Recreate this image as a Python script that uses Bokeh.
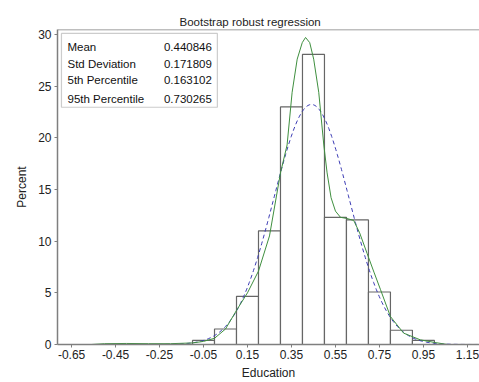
import numpy as np
from bokeh.plotting import figure
from bokeh.models import FixedTicker, Span, BoxAnnotation, Label
from bokeh.embed import file_html
from bokeh.resources import INLINE

# ---- data ----
bin_mid = [-0.05, 0.05, 0.15, 0.25, 0.35, 0.45, 0.55, 0.65, 0.75, 0.85, 0.95]
bin_pct = [0.39, 1.5, 4.66, 11.0, 22.98, 28.06, 12.3, 12.05, 5.08, 1.38, 0.39]
bin_width = 0.1

kde_x = [-0.56, -0.5, -0.4, -0.3, -0.2, -0.1, -0.05, 0.0, 0.05, 0.1, 0.15, 0.2, 0.25,
         0.3, 0.33, 0.353, 0.376, 0.399, 0.414, 0.433, 0.451, 0.474, 0.497, 0.512,
         0.53, 0.55, 0.573, 0.6, 0.633, 0.66, 0.694, 0.725, 0.755, 0.8, 0.86, 0.936, 1.0, 1.06]
kde_y = [0.0, 0.08, 0.1, 0.08, 0.08, 0.15, 0.3, 0.6, 1.5, 3.3, 5.0, 7.1, 10.5,
         16.6, 19.3, 24.4, 27.6, 29.2, 29.7, 29.2, 27.6, 24.4, 19.3, 16.6,
         14.2, 12.9, 12.3, 12.2, 12.0, 10.8, 8.8, 7.0, 5.3, 2.7, 1.1, 0.45, 0.2, 0.0]

stat_labels = ["Mean", "Std Deviation", "5th Percentile", "95th Percentile"]
stat_values = ["0.440846", "0.171809", "0.163102", "0.730265"]
mean_val = 0.440846
sd_val = 0.171809

x_ticks = [-0.65, -0.45, -0.25, -0.05, 0.15, 0.35, 0.55, 0.75, 0.95, 1.15]
y_ticks = [0, 5, 10, 15, 20, 25, 30]

FONT = "Liberation Sans"
GRAY = "#7f7f7f"

p = figure(width=479, height=382, output_backend="svg", toolbar_location=None,
           x_range=(-0.714, 1.205), y_range=(0, 30.47),
           min_border_left=57, min_border_right=0, min_border_top=29, min_border_bottom=37)
p.outline_line_color = None
p.grid.grid_line_color = None
p.background_fill_color = "white"

p.title.text = "Bootstrap robust regression"
p.title.text_font = FONT
p.title.text_font_size = "11.5px"
p.title.text_font_style = "normal"
p.title.text_color = "#222222"
p.title.align = "left"
p.title.offset = 122
p.title.standoff = 4

# histogram
p.vbar(x=bin_mid, top=bin_pct, width=bin_width, bottom=0,
       fill_color="white", line_color="#666666", line_width=1.2)

# normal curve from displayed mean/sd (percent per bin)
nx = np.linspace(-0.7, 1.2, 300)
ny = 100 * bin_width * np.exp(-0.5 * ((nx - mean_val) / sd_val) ** 2) / (sd_val * np.sqrt(2 * np.pi))
p.line(nx, ny, line_color="#3c3cb4", line_width=1, line_dash="4 3")

# kernel curve
p.line(kde_x, kde_y, line_color="#3f8f3f", line_width=1)

# top border
p.add_layout(Span(location=30.47, dimension="width", line_color=GRAY, line_width=1.5))

# axes
for ax in (p.xaxis[0], p.yaxis[0]):
    ax.axis_line_color = GRAY
    ax.axis_line_width = 1.5
    ax.major_tick_line_color = GRAY
    ax.major_tick_out = 3
    ax.major_tick_in = 0
    ax.minor_tick_line_color = None
    ax.major_label_text_font = FONT
    ax.major_label_text_font_size = "12px"
    ax.major_label_text_color = "#222222"
    ax.axis_label_text_font = FONT
    ax.axis_label_text_font_size = "12px"
    ax.axis_label_text_font_style = "normal"
    ax.axis_label_text_color = "#222222"

p.xaxis.ticker = FixedTicker(ticks=x_ticks)
p.xaxis.major_label_overrides = {t: f"{t:.2f}" for t in x_ticks}
p.xaxis.axis_label = "Education"
p.xaxis.major_label_standoff = 2
p.xaxis.axis_label_standoff = 4

p.yaxis.ticker = FixedTicker(ticks=y_ticks)
p.yaxis.axis_label = "Percent"
p.yaxis.major_label_standoff = 3
p.yaxis.axis_label_standoff = 6

# inset stats box
p.add_layout(BoxAnnotation(left=-0.696, right=0.013, bottom=22.95, top=30.09,
                           fill_color="white", fill_alpha=1.0,
                           line_color="#555555", line_width=1.2))
row_y = [28.77, 27.17, 25.55, 23.79]
for lab, val, yy in zip(stat_labels, stat_values, row_y):
    p.add_layout(Label(x=-0.6686, y=yy, text=lab, text_font=FONT, text_font_size="11.5px",
                       text_baseline="middle", text_align="left", text_color="#111111"))
    p.add_layout(Label(x=-0.012, y=yy, text=val, text_font=FONT, text_font_size="11.5px",
                       text_baseline="middle", text_align="right", text_color="#111111"))

open("out.html", "w").write(file_html(p, INLINE))
